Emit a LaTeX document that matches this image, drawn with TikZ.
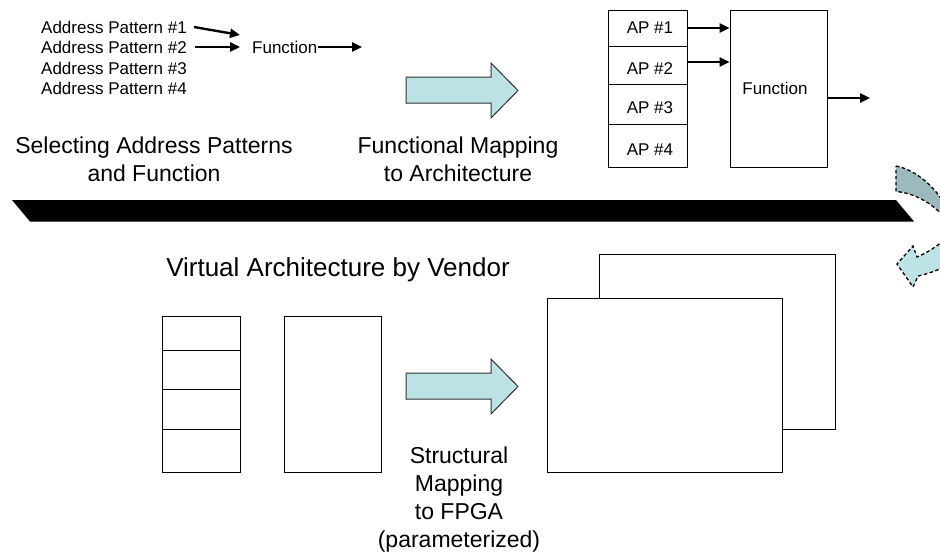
\documentclass[tikz,border=0pt]{standalone}
\usepackage{fontspec}
\setmainfont{Liberation Sans}
\usetikzlibrary{arrows.meta}
\definecolor{arrowfill}{RGB}{188,226,230}
\definecolor{curvedark}{RGB}{156,186,190}
\definecolor{curvelight}{RGB}{190,227,231}
\begin{document}
\begin{tikzpicture}[x=1pt,y=-1pt,
  box/.style={draw, line width=1pt, inner sep=0pt, fill=white},
  small/.style={font=\fontsize{17}{20}\selectfont, inner sep=0pt},
  big/.style={font=\fontsize{23}{28}\selectfont, align=center, inner sep=0pt},
  arr/.style={line width=2.4pt, -{Triangle[length=10pt,width=9pt]}},
  fatarrow/.style={draw=black!80, line width=1pt, fill=arrowfill, line join=miter},
  curv/.style={draw, line width=1.3pt, dash pattern=on 3.5pt off 2.5pt}]
\useasboundingbox (0,0) rectangle (940,555);
\begin{scope}
\clip (0,0) rectangle (940,555);

% top-left: address patterns and function
\node[small, anchor=west] (a1) at (41,27) {Address Pattern \#1};
\node[small, anchor=west] (a2) at (41,47) {Address Pattern \#2};
\node[small, anchor=west] (a3) at (41,68) {Address Pattern \#3};
\node[small, anchor=west] (a4) at (41,88) {Address Pattern \#4};
\node[small, anchor=west] (fn) at (252,47) {Function};
\coordinate (fnout) at (362,47);
\draw[arr] ([xshift=7pt]a1.east) -- ([xshift=-12pt,yshift=12pt]fn.west);
\draw[arr] ([xshift=8pt]a2.east) -- ([xshift=-12pt]fn.west);
\draw[arr] (fn.east) -- (fnout);

% top big arrow
\filldraw[fatarrow] (406,77) -- (491,77) -- (491,63) -- (518,90.5) -- (491,118) -- (491,103) -- (406,103) -- cycle;

% top-right architecture
\node[box, minimum width=79pt, minimum height=36pt] (ap1) at (647.5,28) {};
\node[box, minimum width=79pt, minimum height=38pt] (ap2) at (647.5,65) {};
\node[box, minimum width=79pt, minimum height=40pt] (ap3) at (647.5,104) {};
\node[box, minimum width=79pt, minimum height=43pt] (ap4) at (647.5,145.5) {};
\node[small] (ap1t) at (650,28) {AP \#1};
\node[small] (ap2t) at (650,69) {AP \#2};
\node[small] (ap3t) at (650,108) {AP \#3};
\node[small] (ap4t) at (650,150) {AP \#4};
\node[box, minimum width=97pt, minimum height=157pt] (func) at (778.5,88.5) {};
\node[small] (funct) at (775,88) {Function};
\coordinate (fout) at (870,98);
\draw[arr] (ap1.east) -- (ap1.east -| func.west);
\draw[arr] ([yshift=3pt]ap2.east) -- ([yshift=3pt]ap2.east -| func.west);
\draw[arr] (func.east |- fout) -- (fout);

% labels top
\node[big] (sel) at (154,159) {Selecting Address Patterns\\and Function};
\node[big] (fm) at (458,159) {Functional Mapping\\to Architecture};

% black band
\fill (12,200) -- (896,200) -- (914,221.5) -- (30,221.5) -- cycle;

% curved arrow at the right edge
\filldraw[curv, fill=curvedark] (896,166) .. controls (912,169) and (931,182) .. (944,203)
  -- (944,217) .. controls (933,204) and (915,193) .. (896,191.5) -- cycle;
\filldraw[curv, fill=curvelight] (944,240) .. controls (935,248) and (926,253) .. (917,257)
  -- (913,246) -- (897,264) -- (913,287) -- (918,276)
  .. controls (927,274) and (936,271) .. (944,267) -- cycle;

% bottom
\node[big, font=\fontsize{26}{31}\selectfont] (vav) at (338,270) {Virtual Architecture by Vendor};
\node[box, minimum width=78pt, minimum height=34pt] (b1) at (201,333) {};
\node[box, minimum width=78pt, minimum height=39pt] (b2) at (201,369.5) {};
\node[box, minimum width=78pt, minimum height=40pt] (b3) at (201,409) {};
\node[box, minimum width=78pt, minimum height=43pt] (b4) at (201,450.5) {};
\node[box, minimum width=97pt, minimum height=156pt] (bf) at (332.5,394) {};

\filldraw[fatarrow] (406,373) -- (491,373) -- (491,359) -- (518,386.5) -- (491,414) -- (491,399) -- (406,399) -- cycle;

\node[box, minimum width=236pt, minimum height=175pt] (back) at (717,341.5) {};
\node[box, minimum width=235pt, minimum height=174pt] (front) at (664.5,385) {};

\node[big] (sm) at (459,500) {Structural\\Mapping\\to FPGA\\(parameterized)};
\end{scope}
\end{tikzpicture}
\end{document}
